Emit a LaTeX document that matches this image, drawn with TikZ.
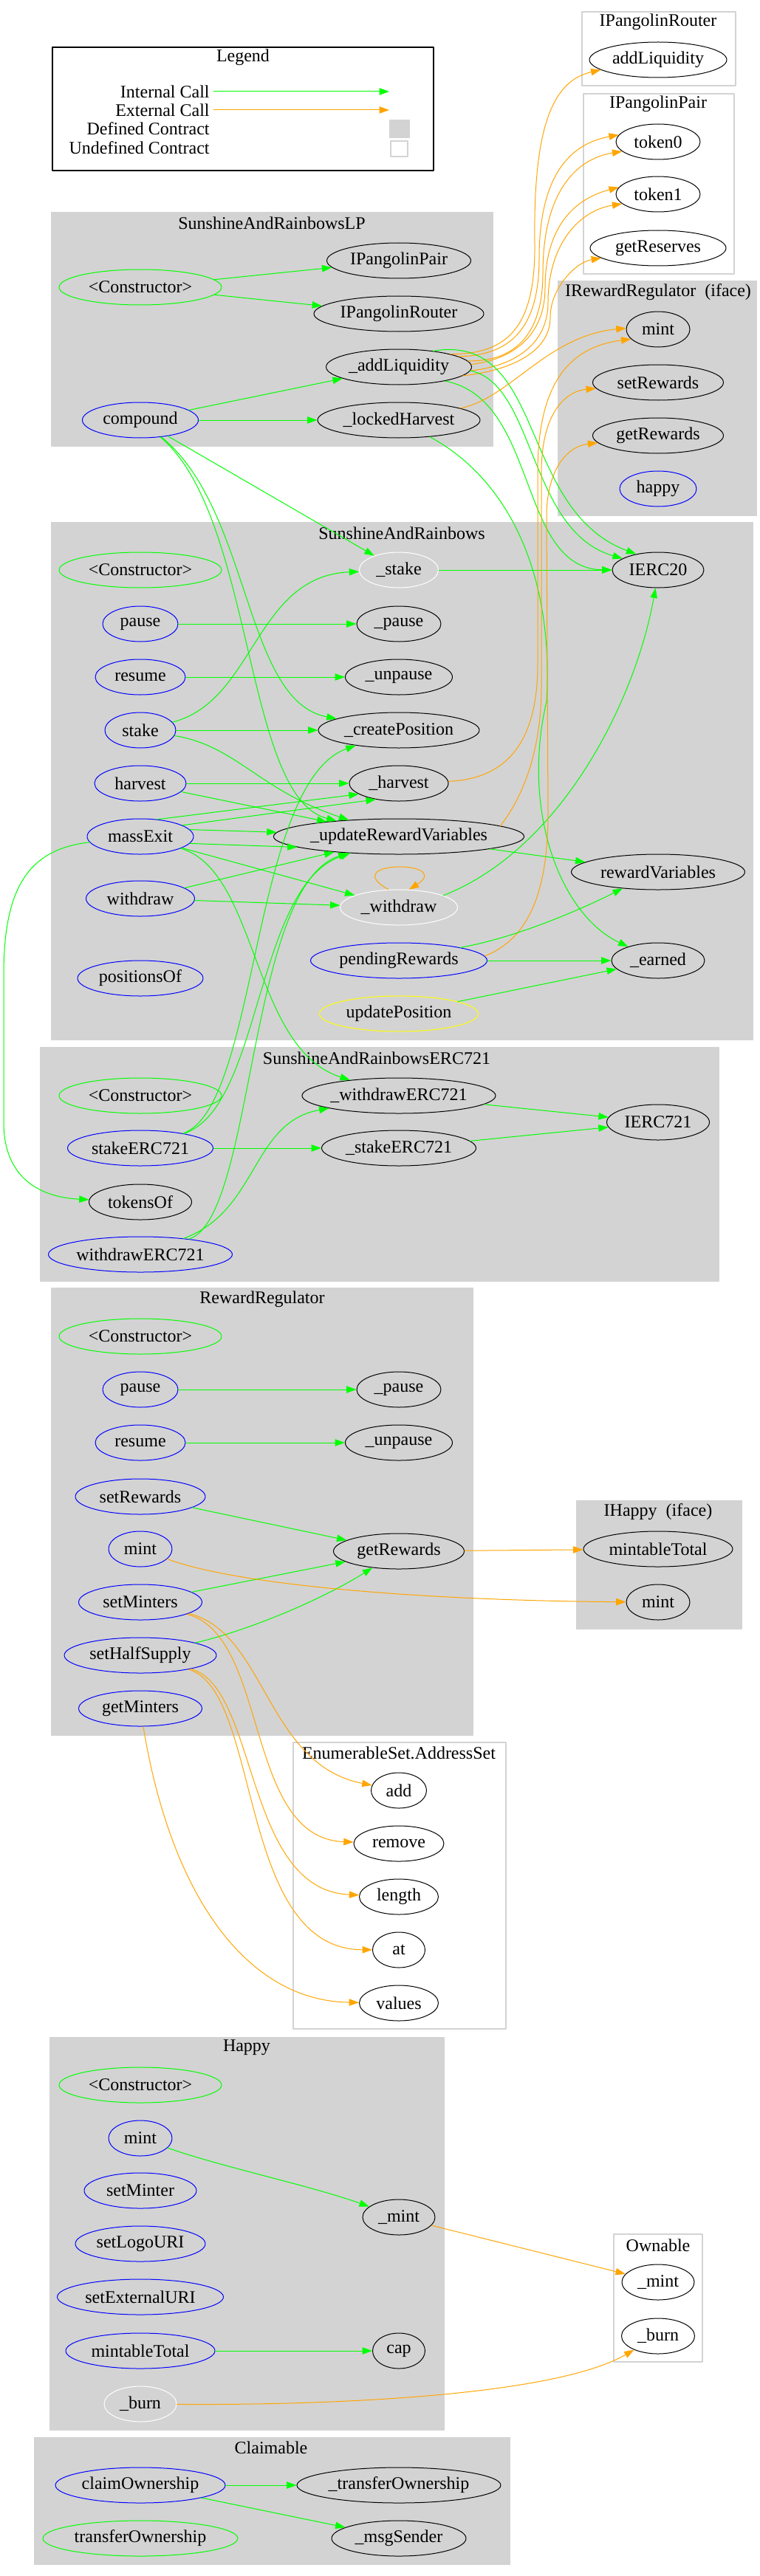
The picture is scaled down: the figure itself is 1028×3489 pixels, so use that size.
\documentclass[tikz,border=0pt]{standalone}
\usepackage{fontspec}
\setmainfont{Liberation Serif}
\usetikzlibrary{arrows.meta,shapes.geometric}
\definecolor{cgreen}{HTML}{00FF00}
\definecolor{corange}{HTML}{FFA500}
\definecolor{cblue}{HTML}{0000FF}
\definecolor{cyellow}{HTML}{FFFF00}
\definecolor{cgray}{HTML}{D3D3D3}
\begin{document}
\begin{tikzpicture}[x=0.5pt,y=-0.5pt,line cap=round,line join=round,
  font=\fontsize{12}{14}\selectfont,
  fn/.style={draw=black,ellipse,line width=0.5pt,inner sep=0pt,minimum height=24pt},
  pub/.style={fn,draw=cblue},
  ctor/.style={fn,draw=cgreen},
  hidden/.style={fn,draw=white},
  modf/.style={fn,draw=cyellow},
  intcall/.style={draw=cgreen,line width=0.5pt,-{Triangle[length=6.7pt,width=4.7pt]}},
  extcall/.style={draw=corange,line width=0.5pt,-{Triangle[length=6.7pt,width=4.7pt]}},
  defbox/.style={fill=cgray,draw=cgray,line width=0.5pt},
  undefbox/.style={fill=white,draw=cgray,line width=0.8pt},
  ttl/.style={inner sep=0pt}]
  \useasboundingbox (0,0) rectangle (1028,3489);
  \draw[line width=0.8pt] (71,64) rectangle (587,231);
  \node[ttl] (lg-title) at (329,78) {Legend};
  \node[ttl,anchor=east] (lg-int) at (284,124) {Internal Call};
  \node[ttl,anchor=east] (lg-ext) at (284,149) {External Call};
  \node[ttl,anchor=east] (lg-def) at (284,174) {Defined Contract};
  \node[ttl,anchor=east] (lg-undef) at (284,200) {Undefined Contract};
  \coordinate (lg-int-end) at (527,124);
  \coordinate (lg-ext-end) at (527,149);
  \draw[defbox] (527,163) rectangle (554,187);
  \draw[undefbox] (529,191) rectangle (552,212);
  \draw[undefbox] (788,16) rectangle (996,116);
  \draw[undefbox] (790,127) rectangle (994,371);
  \draw[defbox] (755,381) rectangle (1024,698);
  \draw[defbox] (69,288) rectangle (667,604);
  \draw[defbox] (69,707) rectangle (1019,1408);
  \draw[defbox] (54,1418) rectangle (973,1735);
  \draw[defbox] (69,1744) rectangle (640,2350);
  \draw[defbox] (780,2032) rectangle (1004,2206);
  \draw[undefbox] (397,2360) rectangle (685,2748);
  \draw[defbox] (67,2759) rectangle (601,3291);
  \draw[undefbox] (831,3026) rectangle (951,3199);
  \draw[defbox] (46,3301) rectangle (690,3473);
  \node[ttl] (pr-title) at (891,30) {IPangolinRouter};
  \node[ttl] (pp-title) at (891,141) {IPangolinPair};
  \node[ttl] (irr-title) at (891,396) {IRewardRegulator~~(iface)};
  \node[ttl] (lp-title) at (368,302) {SunshineAndRainbowsLP};
  \node[ttl] (sar-title) at (544,722) {SunshineAndRainbows};
  \node[ttl] (e-title) at (510,1433) {SunshineAndRainbowsERC721};
  \node[ttl] (rr-title) at (355,1760) {RewardRegulator};
  \node[ttl] (ih-title) at (891,2048) {IHappy~~(iface)};
  \node[ttl] (es-title) at (540,2374) {EnumerableSet.AddressSet};
  \node[ttl] (h-title) at (334,2773) {Happy};
  \node[ttl] (ow-title) at (891,3041) {Ownable};
  \node[ttl] (c-title) at (367,3315) {Claimable};
  \node[fn,minimum width=93pt] (pr-addliq) at (891,81) {addLiquidity};
  \node[fn,minimum width=57pt] (pp-token0) at (891,192) {token0};
  \node[fn,minimum width=57pt] (pp-token1) at (891,263) {token1};
  \node[fn,minimum width=92pt] (pp-reserves) at (891,336) {getReserves};
  \node[fn,minimum width=43pt] (irr-mint) at (891,446) {mint};
  \node[fn,minimum width=88.5pt] (irr-set) at (891,518) {setRewards};
  \node[fn,minimum width=88.5pt] (irr-get) at (891,590) {getRewards};
  \node[pub,minimum width=52pt] (irr-happy) at (891,662) {happy};
  \node[ctor,minimum width=110pt] (lp-ctor) at (190,389) {<Constructor>};
  \node[fn,minimum width=97.5pt] (lp-pair) at (540,353) {IPangolinPair};
  \node[fn,minimum width=115pt] (lp-router) at (540,425) {IPangolinRouter};
  \node[fn,minimum width=98.5pt] (lp-addliq) at (540,497) {\_addLiquidity};
  \node[pub,minimum width=78.5pt] (lp-compound) at (190,569) {compound};
  \node[fn,minimum width=110pt] (lp-locked) at (540,569) {\_lockedHarvest};
  \node[ctor,minimum width=110pt] (sar-ctor) at (190,772) {<Constructor>};
  \node[hidden,minimum width=53.5pt] (sar-ustake) at (540,772) {\_stake};
  \node[fn,minimum width=62pt] (ierc20) at (891,772) {IERC20};
  \node[pub,minimum width=51pt] (sar-pause) at (190,845) {pause};
  \node[fn,minimum width=57pt] (sar-upause) at (540,845) {\_pause};
  \node[pub,minimum width=61pt] (sar-resume) at (190,917) {resume};
  \node[fn,minimum width=72.5pt] (sar-uunpause) at (540,917) {\_unpause};
  \node[pub,minimum width=48pt] (sar-stake) at (190,989) {stake};
  \node[fn,minimum width=109pt] (sar-create) at (540,989) {\_createPosition};
  \node[pub,minimum width=62pt] (sar-harvest) at (190,1061) {harvest};
  \node[fn,minimum width=67pt] (sar-uharvest) at (540,1061) {\_harvest};
  \node[pub,minimum width=72pt] (sar-massexit) at (190,1133) {massExit};
  \node[fn,minimum width=169pt] (sar-update) at (540,1133) {\_updateRewardVariables};
  \node[fn,minimum width=117.5pt] (sar-rewardvars) at (891,1181) {rewardVariables};
  \node[pub,minimum width=73.5pt] (sar-withdraw) at (190,1217) {withdraw};
  \node[hidden,minimum width=79.5pt] (sar-uwithdraw) at (540,1229) {\_withdraw};
  \node[pub,minimum width=119.5pt] (sar-pending) at (540,1301) {pendingRewards};
  \node[fn,minimum width=63pt] (sar-earned) at (891,1301) {\_earned};
  \node[pub,minimum width=85pt] (sar-positions) at (190,1325) {positionsOf};
  \node[modf,minimum width=107.5pt] (sar-updatepos) at (540,1373) {updatePosition};
  \node[ctor,minimum width=110pt] (e-ctor) at (190,1484) {<Constructor>};
  \node[fn,minimum width=130pt] (e-uwithdraw) at (540,1484) {\_withdrawERC721};
  \node[fn,minimum width=69.5pt] (ierc721) at (891,1520) {IERC721};
  \node[pub,minimum width=98.5pt] (e-stake) at (190,1555) {stakeERC721};
  \node[fn,minimum width=104.5pt] (e-ustake) at (540,1555) {\_stakeERC721};
  \node[fn,minimum width=69.5pt] (e-tokensof) at (190,1628) {tokensOf};
  \node[pub,minimum width=124.5pt] (e-withdraw) at (190,1699) {withdrawERC721};
  \node[ctor,minimum width=110pt] (rr-ctor) at (190,1810) {<Constructor>};
  \node[pub,minimum width=51pt] (rr-pause) at (190,1882) {pause};
  \node[fn,minimum width=57pt] (rr-upause) at (540,1882) {\_pause};
  \node[pub,minimum width=61pt] (rr-resume) at (190,1954) {resume};
  \node[fn,minimum width=72.5pt] (rr-uunpause) at (540,1954) {\_unpause};
  \node[pub,minimum width=88pt] (rr-setrewards) at (190,2027) {setRewards};
  \node[pub,minimum width=43pt] (rr-mint) at (190,2098) {mint};
  \node[fn,minimum width=88.5pt] (rr-getrewards) at (540,2101) {getRewards};
  \node[pub,minimum width=83.5pt] (rr-setminters) at (190,2170) {setMinters};
  \node[pub,minimum width=103pt] (rr-sethalf) at (190,2242) {setHalfSupply};
  \node[pub,minimum width=83.5pt] (rr-getminters) at (190,2314) {getMinters};
  \node[fn,minimum width=101pt] (ih-mintable) at (891,2098) {mintableTotal};
  \node[fn,minimum width=43pt] (ih-mint) at (891,2170) {mint};
  \node[fn,minimum width=37.5pt] (es-add) at (540,2425) {add};
  \node[fn,minimum width=61pt] (es-remove) at (540,2497) {remove};
  \node[fn,minimum width=53.5pt] (es-length) at (540,2569) {length};
  \node[fn,minimum width=35.5pt] (es-at) at (540,2641) {at};
  \node[fn,minimum width=53.5pt] (es-values) at (540,2713) {values};
  \node[ctor,minimum width=110pt] (h-ctor) at (190,2824) {<Constructor>};
  \node[pub,minimum width=43pt] (h-mint) at (190,2896) {mint};
  \node[pub,minimum width=76pt] (h-setminter) at (190,2967) {setMinter};
  \node[fn,minimum width=49pt] (h-umint) at (540,3003) {\_mint};
  \node[pub,minimum width=88pt] (h-setlogo) at (190,3039) {setLogoURI};
  \node[pub,minimum width=112.5pt] (h-setext) at (190,3111) {setExternalURI};
  \node[pub,minimum width=101pt] (h-mintable) at (190,3184) {mintableTotal};
  \node[fn,minimum width=35.5pt] (h-cap) at (540,3184) {cap};
  \node[hidden,minimum width=49pt] (h-burn) at (190,3256) {\_burn};
  \node[fn,minimum width=49pt] (ow-mint) at (891,3091) {\_mint};
  \node[fn,minimum width=49.5pt] (ow-burn) at (891,3164) {\_burn};
  \node[pub,minimum width=115pt] (c-claim) at (190,3366) {claimOwnership};
  \node[fn,minimum width=138pt] (c-utransfer) at (540,3366) {\_transferOwnership};
  \node[ctor,minimum width=132pt] (c-transfer) at (190,3438) {transferOwnership};
  \node[fn,minimum width=91pt] (c-msgsender) at (540,3438) {\_msgSender};
  \draw[intcall,shorten <=2.5pt] (lg-int) -- (lg-int-end);
  \draw[extcall,shorten <=2.5pt] (lg-ext) -- (lg-ext-end);
  \draw[intcall] (lp-ctor) -- (lp-pair);
  \draw[intcall] (lp-ctor) -- (lp-router);
  \draw[intcall] (lp-compound) -- (lp-addliq);
  \draw[intcall] (lp-compound) -- (lp-locked);
  \draw[intcall] (lp-compound) -- (sar-ustake);
  \draw[intcall] (lp-compound) .. controls (340,690) and (330,950) .. (sar-create);
  \draw[intcall] (lp-compound) .. controls (345,700) and (330,1080) .. (sar-update);
  \draw[extcall] (lp-addliq.14) .. controls (690,480) and (725,440) .. (724,330) .. controls (722,180) and (745,110) .. (pr-addliq.190);
  \draw[extcall] (lp-addliq.10) .. controls (695,482) and (730,440) .. (730,350) .. controls (730,240) and (770,195) .. (pp-token0.170);
  \draw[extcall] (lp-addliq.5) .. controls (700,490) and (735,450) .. (735,370) .. controls (735,260) and (780,215) .. (pp-token0.195);
  \draw[extcall] (lp-addliq.2) .. controls (700,486) and (738,450) .. (738,390) .. controls (738,310) and (775,270) .. (pp-token1.170);
  \draw[extcall] (lp-addliq.-3) .. controls (705,495) and (742,460) .. (742,410) .. controls (742,330) and (785,285) .. (pp-token1.195);
  \draw[extcall] (lp-addliq.-8) .. controls (705,500) and (745,470) .. (745,430) .. controls (745,390) and (780,355) .. (pp-reserves.190);
  \draw[intcall] (lp-addliq.25) .. controls (740,450) and (700,690) .. (ierc20.144);
  \draw[intcall] (lp-addliq.-3) .. controls (725,520) and (715,720) .. (ierc20.162);
  \draw[intcall] (lp-addliq.-17) .. controls (730,540) and (700,770) .. (ierc20.west);
  \draw[extcall] (lp-locked) .. controls (690,540) and (740,455) .. (irr-mint.178);
  \draw[intcall] (lp-locked) .. controls (690,650) and (750,780) .. (740,950) .. controls (705,1100) and (760,1240) .. (sar-earned.155);
  \draw[intcall] (sar-ustake) -- (ierc20);
  \draw[intcall] (sar-pause) -- (sar-upause);
  \draw[intcall] (sar-resume) -- (sar-uunpause);
  \draw[intcall] (sar-stake) .. controls (345,950) and (345,780) .. (sar-ustake);
  \draw[intcall] (sar-stake) -- (sar-create);
  \draw[intcall] (sar-stake) .. controls (320,1010) and (350,1070) .. (sar-update);
  \draw[intcall] (sar-harvest) -- (sar-uharvest);
  \draw[intcall] (sar-harvest) -- (sar-update);
  \draw[intcall] (sar-massexit.45) -- (sar-uharvest.195);
  \draw[intcall] (sar-massexit.15) -- (sar-uharvest.215);
  \draw[intcall] (sar-massexit.8) -- (sar-update.178);
  \draw[intcall] (sar-massexit.-8) -- (sar-update.186);
  \draw[intcall] (sar-massexit) -- (sar-uwithdraw);
  \draw[intcall] (sar-massexit) .. controls (350,1180) and (340,1420) .. (e-uwithdraw);
  \draw[intcall] (sar-massexit) .. controls (40,1150) and (5,1200) .. (5,1320) -- (5,1520) .. controls (5,1600) and (60,1622) .. (e-tokensof);
  \draw[intcall] (sar-withdraw) -- (sar-update);
  \draw[intcall] (sar-withdraw) -- (sar-uwithdraw);
  \draw[extcall] (sar-uwithdraw.120) .. controls (455,1165) and (615,1165) .. (sar-uwithdraw.60);
  \draw[intcall] (sar-uwithdraw.15) .. controls (760,1150) and (860,950) .. (ierc20.262);
  \draw[extcall] (sar-uharvest) .. controls (690,1055) and (728,1000) .. (728,900) -- (728,640) .. controls (728,520) and (770,470) .. (irr-mint.200);
  \draw[extcall] (sar-update.6) .. controls (700,1090) and (733,1030) .. (733,930) -- (733,640) .. controls (733,560) and (765,530) .. (irr-set);
  \draw[extcall] (sar-pending.3) .. controls (720,1270) and (742,1200) .. (742,1100) -- (740,700) .. controls (740,640) and (765,605) .. (irr-get);
  \draw[intcall] (sar-update) -- (sar-rewardvars);
  \draw[intcall] (sar-pending.12) .. controls (700,1270) and (790,1230) .. (sar-rewardvars.205);
  \draw[intcall] (sar-pending) -- (sar-earned);
  \draw[intcall] (sar-updatepos) -- (sar-earned);
  \draw[intcall] (e-stake) -- (e-ustake);
  \draw[intcall] (e-stake) .. controls (350,1500) and (340,1060) .. (sar-create);
  \draw[intcall] (e-stake) .. controls (355,1500) and (345,1200) .. (sar-update);
  \draw[intcall] (e-withdraw) .. controls (345,1650) and (335,1200) .. (sar-update);
  \draw[intcall] (e-withdraw) .. controls (350,1640) and (340,1520) .. (e-uwithdraw);
  \draw[intcall] (e-uwithdraw) -- (ierc721);
  \draw[intcall] (e-ustake) -- (ierc721);
  \draw[intcall] (rr-pause) -- (rr-upause);
  \draw[intcall] (rr-resume) -- (rr-uunpause);
  \draw[intcall] (rr-setrewards) -- (rr-getrewards);
  \draw[intcall] (rr-setminters) -- (rr-getrewards);
  \draw[intcall] (rr-sethalf) .. controls (330,2210) and (430,2170) .. (rr-getrewards);
  \draw[extcall] (rr-mint) .. controls (330,2150) and (600,2168) .. (ih-mint);
  \draw[extcall] (rr-getrewards) -- (ih-mintable);
  \draw[extcall] (rr-setminters) .. controls (360,2210) and (360,2390) .. (es-add);
  \draw[extcall] (rr-setminters) .. controls (365,2215) and (330,2490) .. (es-remove);
  \draw[extcall] (rr-sethalf) .. controls (350,2285) and (330,2560) .. (es-length);
  \draw[extcall] (rr-sethalf) .. controls (355,2290) and (320,2640) .. (es-at);
  \draw[extcall] (rr-getminters) .. controls (230,2560) and (330,2710) .. (es-values);
  \draw[intcall] (h-mint) .. controls (300,2935) and (420,2960) .. (h-umint);
  \draw[intcall] (h-mintable) -- (h-cap);
  \draw[extcall] (h-umint) -- (ow-mint);
  \draw[extcall] (h-burn) .. controls (450,3258) and (750,3245) .. (ow-burn);
  \draw[intcall] (c-claim) -- (c-utransfer);
  \draw[intcall] (c-claim) -- (c-msgsender);
\end{tikzpicture}
\end{document}
